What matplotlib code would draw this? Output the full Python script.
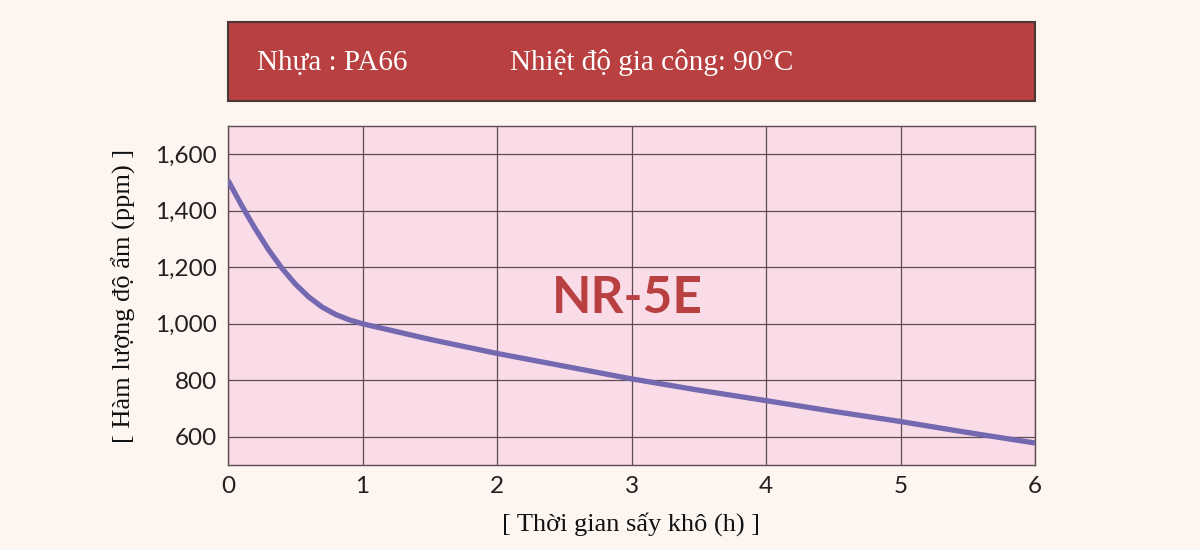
import matplotlib.pyplot as plt
from matplotlib.patches import Rectangle

# drying time (h) vs moisture content (ppm)
hours = [0, 0.1, 0.2, 0.3, 0.4, 0.5, 0.6, 0.7, 0.8, 0.9, 1.0,
         1.5, 2.0, 2.5, 3.0, 3.5, 4.0, 4.5, 5.0, 5.5, 6.0]
moisture = [1508, 1420, 1338, 1263, 1197, 1141, 1095, 1059, 1033, 1014, 1000,
            945, 895, 850, 805, 765, 728, 690, 654, 615, 578]

x_ticks = [0, 1, 2, 3, 4, 5, 6]
y_ticks = [600, 800, 1000, 1200, 1400, 1600]
y_tick_labels = ['600', '800', '1,000', '1,200', '1,400', '1,600']

bg = '#FDF5F0'
plot_bg = '#F9DCE7'
red = '#B84040'
line_col = '#7468B0'
grid_col = '#5E4C55'

fig = plt.figure(figsize=(12, 5.5), dpi=100, facecolor=bg)
ax = fig.add_axes([0.19, 0.1545, 0.6725, 0.6164])
ax.set_facecolor(plot_bg)

ax.plot(hours, moisture, color=line_col, linewidth=3.8, solid_capstyle='butt',
        solid_joinstyle='round', zorder=3)

ax.set_xlim(0, 6)
ax.set_ylim(500, 1700)
ax.set_xticks(x_ticks)
ax.set_yticks(y_ticks)
ax.set_yticklabels(y_tick_labels)
ax.grid(True, color=grid_col, linewidth=0.9)
ax.tick_params(length=0, labelsize=17.5, colors='#231F20', pad=8)
for lab in ax.get_xticklabels() + ax.get_yticklabels():
    lab.set_family('Lato')
for s in ax.spines.values():
    s.set_color(grid_col)
    s.set_linewidth(1.0)

ax.set_xlabel('[ Thời gian sấy khô (h) ]', family='Liberation Serif', fontsize=19,
              color='#111111', labelpad=11)
ax.set_ylabel('[ Hàm lượng độ ẩm (ppm) ]', family='Liberation Serif', fontsize=19,
              color='#111111', labelpad=14)

ax.text(2.97, 1091, 'NR-5E', family='Lato', fontweight='bold', fontsize=37,
        color=red, ha='center', va='center')

# header box
fig.patches.append(Rectangle((0.19, 0.8164), 0.6725, 0.1436, transform=fig.transFigure,
                             facecolor=red, edgecolor='#4A3838', linewidth=1.5))
fig.text(0.2142, 0.8736, 'Nhựa : PA66', family='Liberation Serif', fontsize=21,
         color='white', va='baseline')
fig.text(0.425, 0.8736, 'Nhiệt độ gia công: 90°C', family='Liberation Serif', fontsize=21,
         color='white', va='baseline')

fig.savefig('out.png', dpi=100, facecolor=bg)
